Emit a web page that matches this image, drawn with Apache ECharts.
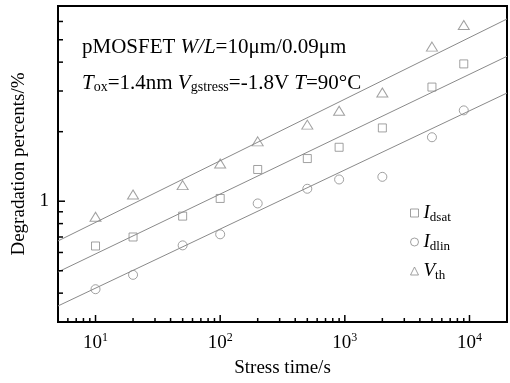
<!DOCTYPE html>
<html>
<head>
<meta charset="utf-8">
<script src="https://cdn.jsdelivr.net/npm/echarts@6/dist/echarts.min.js"></script>
<style>html,body{margin:0;padding:0;background:#fff}#c{width:510px;height:383px}</style>
</head>
<body>
<div id="c"></div>
<script>
// ---- data ----
const stressTime = [10, 20, 50, 100, 200, 500, 900, 2000, 5000, 9000];
const idsat = [0.640, 0.700, 0.862, 1.028, 1.372, 1.530, 1.712, 2.076, 3.12, 3.93];
const idlin = [0.416, 0.480, 0.644, 0.719, 0.978, 1.132, 1.242, 1.275, 1.892, 2.473];
const vth   = [0.857, 1.070, 1.174, 1.456, 1.816, 2.145, 2.465, 2.957, 4.67, 5.79];
const fitTime  = [5, 20000];
const fitIdsat = [0.494, 4.24];
const fitIdlin = [0.352, 2.94];
const fitVth   = [0.673, 6.15];
const xMajorTicks = [10, 100, 1000, 10000];
const xMinorTicks = [6,7,8,9,20,30,40,50,60,70,80,90,200,300,400,500,600,700,800,900,
                     2000,3000,4000,5000,6000,7000,8000,9000];
const yMajorTicks = [1];
const yMinorTicks = [0.4,0.5,0.6,0.7,0.8,0.9,2,3,4,5,6];
const seriesNames = ['I_dsat', 'I_dlin', 'V_th'];
const xRange = [5, 20000];
const yRange = [0.3, 7];

const FONT = 'Liberation Serif';
const GRAY = '#8a8a8a';

function pairs(xs, ys) { return xs.map((x, i) => [x, ys[i]]); }

function tickSeries(data, axis) {
  return {
    type: 'custom', silent: true, clip: false, z: 10,
    data: data,
    renderItem: function (params, api) {
      const p = api.coord([api.value(0), api.value(1)]);
      const len = api.value(2);
      const shape = axis === 'x'
        ? { x1: p[0], y1: p[1], x2: p[0], y2: p[1] - len }
        : { x1: p[0], y1: p[1], x2: p[0] + len, y2: p[1] };
      return { type: 'line', shape: shape, style: { stroke: '#000', lineWidth: 1.5 } };
    }
  };
}

const xTickData = xMajorTicks.map(v => [v, yRange[0], 7]).concat(xMinorTicks.map(v => [v, yRange[0], 4]));
const yTickData = yMajorTicks.map(v => [xRange[0], v, 7]).concat(yMinorTicks.map(v => [xRange[0], v, 5]));

const legendRich = {
  i: { fontFamily: FONT, fontStyle: 'italic', fontSize: 19, color: '#000', lineHeight: 22 },
  s: { fontFamily: FONT, fontSize: 13, color: '#000', lineHeight: 22, verticalAlign: 'bottom', padding: [8, 0, 0, 0] }
};

const titleRich = {
  n: { fontFamily: FONT, fontSize: 21, fontWeight: 'normal', color: '#000', lineHeight: 22 },
  i: { fontFamily: FONT, fontSize: 21, fontWeight: 'normal', fontStyle: 'italic', color: '#000', lineHeight: 22 },
  s: { fontFamily: FONT, fontSize: 14, fontWeight: 'normal', color: '#000', lineHeight: 22, verticalAlign: 'bottom', padding: [8, 0, 0, 0] }
};

const chart = echarts.init(document.getElementById('c'), null, { renderer: 'canvas' });
chart.setOption({
  animation: false,
  backgroundColor: '#fff',
  grid: { left: 58, top: 6, right: 3, bottom: 60, show: true, borderColor: '#000', borderWidth: 2 },
  title: [
    {
      left: 82, top: 36, padding: 0,
      text: '{n|pMOSFET }{i|W/L}{n|=10μm/0.09μm}',
      textStyle: { fontWeight: 'normal', rich: titleRich }
    },
    {
      left: 82, top: 72, padding: 0,
      text: '{i|T}{s|ox}{n|=1.4nm }{i|V}{s|gstress}{n|=-1.8V }{i|T}{n|=90°C}',
      textStyle: { fontWeight: 'normal', rich: titleRich }
    }
  ],
  legend: {
    orient: 'vertical', left: 405, top: 198, itemGap: 8,
    itemWidth: 8, itemHeight: 8,
    data: seriesNames,
    itemStyle: { color: 'rgba(255,255,255,0)', borderColor: GRAY, borderWidth: 1 },
    formatter: function (name) {
      const parts = name.split('_');
      return '{i|' + parts[0] + '}{s|' + parts[1] + '}';
    },
    textStyle: { rich: legendRich }
  },
  xAxis: {
    type: 'log', logBase: 10, min: xRange[0], max: xRange[1],
    name: 'Stress time/s', nameLocation: 'middle', nameGap: 37,
    nameTextStyle: { fontFamily: FONT, fontSize: 19, color: '#000' },
    axisLine: { lineStyle: { color: '#000', width: 2 } },
    axisTick: { show: false },
    splitLine: { show: false },
    axisLabel: {
      margin: 10,
      formatter: function (v) {
        const e = Math.log10(v);
        if (v >= 10 && Math.abs(e - Math.round(e)) < 1e-6) return '{b|10}{s|' + Math.round(e) + '}';
        return '';
      },
      rich: {
        b: { fontFamily: FONT, fontSize: 19, color: '#000', lineHeight: 22 },
        s: { fontFamily: FONT, fontSize: 12, color: '#000', verticalAlign: 'top', lineHeight: 22, padding: [0, 0, 8, 0] }
      }
    }
  },
  yAxis: {
    type: 'log', logBase: 10, min: yRange[0], max: yRange[1],
    name: 'Degradation percents/%', nameLocation: 'middle', nameGap: 29,
    nameTextStyle: { fontFamily: FONT, fontSize: 19, color: '#000' },
    axisLine: { lineStyle: { color: '#000', width: 2 } },
    axisTick: { show: false },
    splitLine: { show: false },
    axisLabel: {
      margin: 9, fontFamily: FONT, fontSize: 19, color: '#000',
      formatter: function (v) { return Math.abs(v - 1) < 1e-9 ? '1' : ''; }
    }
  },
  series: [
    { type: 'line', data: pairs(fitTime, fitIdsat), showSymbol: false, silent: true, lineStyle: { color: GRAY, width: 1 } },
    { type: 'line', data: pairs(fitTime, fitIdlin), showSymbol: false, silent: true, lineStyle: { color: GRAY, width: 1 } },
    { type: 'line', data: pairs(fitTime, fitVth), showSymbol: false, silent: true, lineStyle: { color: GRAY, width: 1 } },
    { name: seriesNames[0], type: 'scatter', symbol: 'rect', symbolSize: 8, data: pairs(stressTime, idsat),
      itemStyle: { color: 'rgba(255,255,255,0)', borderColor: GRAY, borderWidth: 1 } },
    { name: seriesNames[1], type: 'scatter', symbol: 'circle', symbolSize: 9, data: pairs(stressTime, idlin),
      itemStyle: { color: 'rgba(255,255,255,0)', borderColor: GRAY, borderWidth: 1 } },
    { name: seriesNames[2], type: 'scatter', symbol: 'triangle', symbolSize: [11, 9], data: pairs(stressTime, vth),
      itemStyle: { color: 'rgba(255,255,255,0)', borderColor: GRAY, borderWidth: 1 } },
    tickSeries(xTickData, 'x'),
    tickSeries(yTickData, 'y')
  ]
});
</script>
</body>
</html>
